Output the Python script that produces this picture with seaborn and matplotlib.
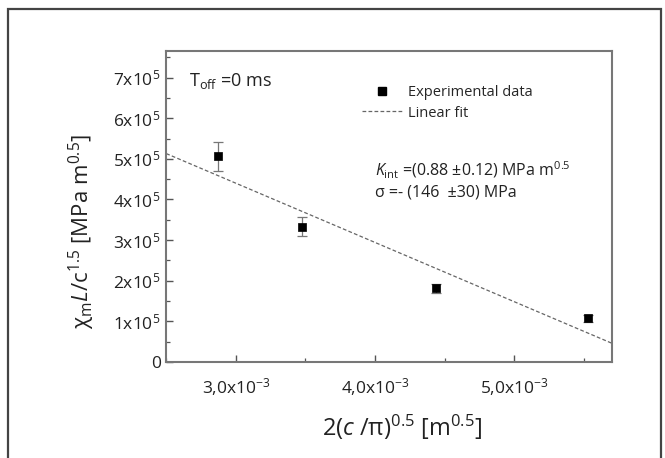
import numpy as np
import pandas as pd
import matplotlib
matplotlib.use("Agg")
import matplotlib.pyplot as plt
import seaborn as sns
from matplotlib.lines import Line2D
from matplotlib.patches import Rectangle
from matplotlib.ticker import FixedLocator, MultipleLocator

# ==================================
# DATA
# ==================================
crack_x = [2.875e-3, 3.476e-3, 4.44e-3, 5.53e-3]
chi_y = [5.06e5, 3.33e5, 1.81e5, 1.07e5]
chi_err = [0.36e5, 0.23e5, 0.11e5, 0.08e5]

fit_intercept = 8.78e5
fit_slope = -1.46e8
fit_range = [2.5e-3, 5.7e-3]

y_ticks = [0, 1e5, 2e5, 3e5, 4e5, 5e5, 6e5, 7e5]
y_ticklabels = ["0"] + [r"$\mathregular{%dx10^{5}}$" % i for i in range(1, 8)]
x_ticks = [3.0e-3, 4.0e-3, 5.0e-3]
x_ticklabels = [r"$\mathregular{3{,}0x10^{-3}}$", r"$\mathregular{4{,}0x10^{-3}}$",
                r"$\mathregular{5{,}0x10^{-3}}$"]

df = pd.DataFrame({"x": crack_x, "y": chi_y, "err": chi_err})
fit_df = pd.DataFrame({"x": fit_range})
fit_df["y"] = fit_intercept + fit_slope * fit_df["x"]

# ==================================
# STYLE
# ==================================
sns.set_theme(style="ticks")
plt.rcParams["font.family"] = ["Open Sans", "DejaVu Sans"]
plt.rcParams["mathtext.fontset"] = "custom"
plt.rcParams["mathtext.rm"] = "Open Sans"
plt.rcParams["mathtext.it"] = "Open Sans:italic"
plt.rcParams["mathtext.bf"] = "Open Sans:bold"

fig = plt.figure(figsize=(6.65, 4.58), dpi=100)
ax = fig.add_axes([0.25, 0.21, 0.67, 0.678])

# outer frame around the figure
fig.patches.append(Rectangle((0.012, -0.05), 0.982, 1.03, transform=fig.transFigure,
                             fill=False, edgecolor="#444444", linewidth=1.6))

# ==================================
# PLOT
# ==================================
sns.lineplot(data=fit_df, x="x", y="y", ax=ax, color="#666666",
             linestyle=(0, (3, 1.8)), linewidth=0.9, legend=False)
ax.errorbar(df["x"], df["y"], yerr=df["err"], fmt="none", ecolor="#777777",
            elinewidth=0.9, capsize=3.3, capthick=0.9, zorder=3)
sns.scatterplot(data=df, x="x", y="y", ax=ax, marker="s", s=38, color="black",
                edgecolor="black", linewidth=0.5, zorder=4, legend=False)

ax.set_xlim(2.5e-3, 5.7e-3)
ax.set_ylim(0, 7.65e5)

ax.xaxis.set_major_locator(FixedLocator(x_ticks))
ax.set_xticklabels(x_ticklabels)
ax.xaxis.set_minor_locator(MultipleLocator(0.5e-3))
ax.yaxis.set_major_locator(FixedLocator(y_ticks))
ax.set_yticklabels(y_ticklabels)
ax.yaxis.set_minor_locator(MultipleLocator(0.5e5))

ax.tick_params(which="both", direction="in", colors="#555555", labelcolor="#222222",
               top=False, right=False)
ax.tick_params(which="major", length=5, width=1.0, labelsize=12.5)
ax.tick_params(axis="x", which="major", pad=10)
ax.tick_params(axis="y", which="major", pad=4)
ax.tick_params(which="minor", length=3, width=0.9)
for sp in ax.spines.values():
    sp.set_color("#777777")
    sp.set_linewidth(1.5)

ax.set_xlabel(r"2($\mathit{c}$ /π)$^{\mathregular{0.5}}$ [m$^{\mathregular{0.5}}$]",
              fontsize=17, color="#222222")
ax.set_ylabel(r"χ$_{\mathregular{m}}$$\mathit{L}$/c$^{\mathregular{1.5}}$ [MPa m$^{\mathregular{0.5}}$]",
              fontsize=16, color="#222222")
ax.xaxis.set_label_coords(0.53, -0.165)
ax.yaxis.set_label_coords(-0.155, 0.42)

# ==================================
# ANNOTATIONS + LEGEND
# ==================================
ax.text(0.052, 0.905, r"T$_{\mathregular{off}}$ =0 ms", transform=ax.transAxes,
        fontsize=13, va="center", ha="left", color="#222222")

handles = [
    Line2D([], [], marker="s", color="black", linestyle="none", markersize=5.5),
    Line2D([], [], color="#666666", linestyle=(0, (3, 1.8)), linewidth=0.9),
]
ax.legend(handles, ["Experimental data", "Linear fit"], loc="upper left",
          bbox_to_anchor=(0.44, 0.89), frameon=False, fontsize=10.5,
          handlelength=2.7, handletextpad=0.4, labelspacing=0.35,
          borderpad=0, borderaxespad=0)

ax.text(0.469, 0.615, r"$\mathit{K}_{\mathregular{int}}$ =(0.88 ±0.12) MPa m$^{\mathregular{0.5}}$",
        transform=ax.transAxes, fontsize=11.5, va="center", ha="left", color="#222222")
ax.text(0.469, 0.545, "σ =- (146  ±30) MPa",
        transform=ax.transAxes, fontsize=11.5, va="center", ha="left", color="#222222")

fig.savefig("out.png", dpi=100)
